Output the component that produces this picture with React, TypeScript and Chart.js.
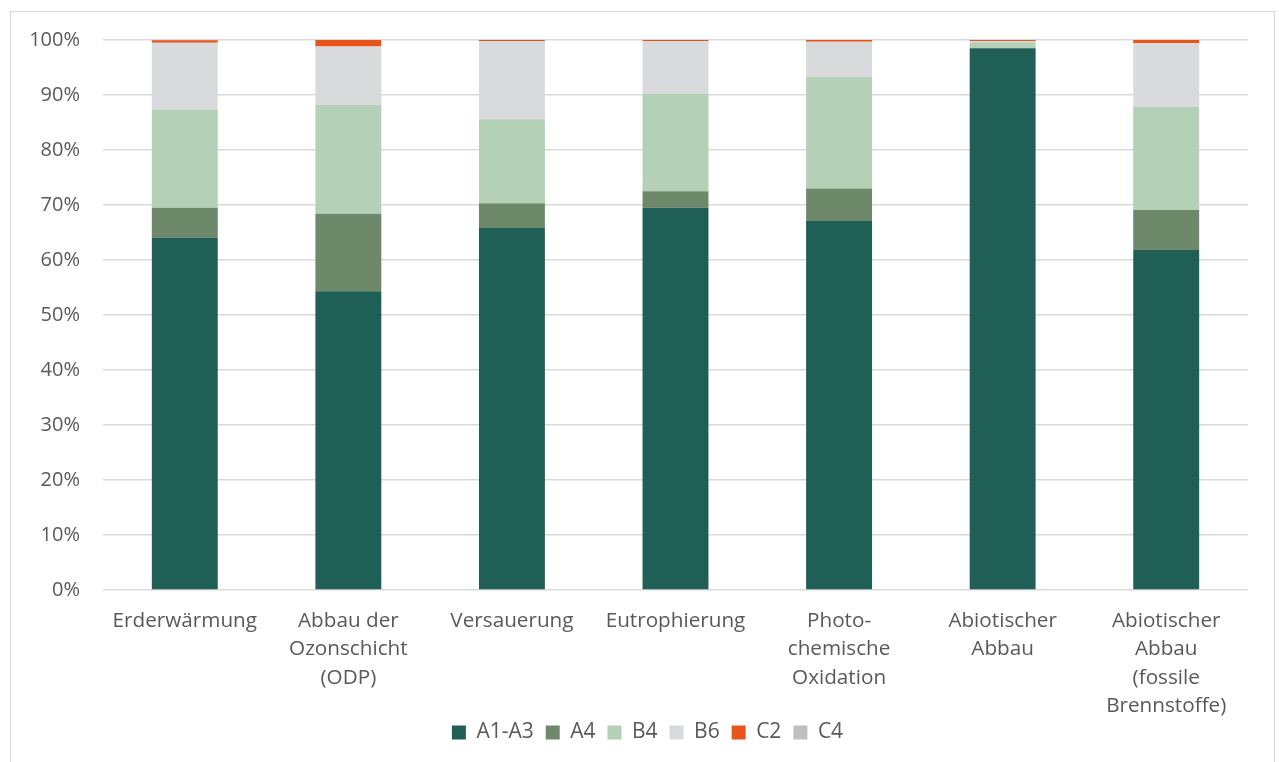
import React, { useEffect, useRef } from "react";
import { Chart, registerables } from "chart.js";

Chart.register(...registerables);

const categories: string[][] = [
  ["Erderwärmung"],
  ["Abbau der", "Ozonschicht", "(ODP)"],
  ["Versauerung"],
  ["Eutrophierung"],
  ["Photo-", "chemische", "Oxidation"],
  ["Abiotischer", "Abbau"],
  ["Abiotischer", "Abbau", "(fossile", "Brennstoffe)"],
];

const a1a3 = [64.1, 54.3, 65.8, 69.5, 67.1, 98.5, 61.8];
const a4 = [5.4, 14.1, 4.5, 3.0, 5.9, 0.0, 7.3];
const b4 = [17.8, 19.8, 15.3, 17.7, 20.3, 1.1, 18.7];
const b6 = [12.2, 10.6, 14.2, 9.6, 6.4, 0.2, 11.6];
const c2 = [0.45, 1.2, 0.2, 0.2, 0.3, 0.2, 0.6];
const c4 = [0.05, 0.0, 0.0, 0.0, 0.0, 0.0, 0.0];

const yTicks = [0, 10, 20, 30, 40, 50, 60, 70, 80, 90, 100];

const FONT = "'Open Sans', 'Noto Sans', sans-serif";
const TEXT = "#595959";

export default function App() {
  const ref = useRef<HTMLCanvasElement | null>(null);

  useEffect(() => {
    if (!ref.current) return;
    const mk = (label: string, data: number[], color: string) => ({
      label,
      data,
      backgroundColor: color,
      borderWidth: 0,
      barPercentage: 0.403,
      categoryPercentage: 1,
      yAxisID: "y",
    });
    const chart = new Chart(ref.current, {
      type: "bar",
      data: {
        labels: categories,
        datasets: [
          mk("A1-A3", a1a3, "#1F5F55"),
          mk("A4", a4, "#6E896A"),
          mk("B4", b4, "#B4D0B6"),
          mk("B6", b6, "#D9DADC"),
          mk("C2", c2, "#E8541C"),
          mk("C4", c4, "#BFBFBF"),
        ],
      },
      options: {
        animation: false,
        responsive: false,
        maintainAspectRatio: false,
        layout: { padding: { top: 28, right: 0, bottom: 9, left: 10 } },
        plugins: {
          tooltip: { enabled: false },
          legend: {
            position: "bottom",
            labels: {
              boxWidth: 14,
              boxHeight: 14,
              padding: 12,
              color: TEXT,
              font: { family: FONT, size: 21 },
            },
          },
        },
        scales: {
          x: {
            stacked: true,
            grid: { display: false, drawTicks: false },
            border: { display: false },
            ticks: {
              color: TEXT,
              font: { family: FONT, size: 20.7, lineHeight: 1.37 },
              maxRotation: 0,
              autoSkip: false,
              padding: 17,
            },
            afterFit: (s: any) => {
              s.height = 120;
              s._computeLabelArea = () => undefined;
            },
          },
          y: {
            stacked: true,
            min: 0,
            max: 100,
            afterBuildTicks: (s: any) => {
              s.ticks = yTicks.map((v) => ({ value: v }));
            },
            grid: {
              color: "#D9D9D9",
              lineWidth: 1.5,
              drawTicks: true,
              tickLength: 23,
              tickColor: "rgba(0,0,0,0)",
            },
            border: { display: false },
            ticks: {
              color: TEXT,
              font: { family: FONT, size: 20 },
              padding: 0,
              callback: (v: any) => v + "%",
            },
            afterFit: (s: any) => {
              s.width = 82;
            },
          },
          yRight: {
            position: "right",
            display: true,
            grid: { display: false, drawTicks: false },
            border: { display: false },
            ticks: { display: false },
            afterFit: (s: any) => {
              s.width = 26;
            },
          },
        },
      },
    });
    return () => chart.destroy();
  }, []);

  return (
    <div
      style={{
        position: "fixed",
        left: 10,
        top: 11,
        width: 1265,
        height: 751,
        border: "1px solid #D9D9D9",
        borderBottom: "none",
        boxSizing: "border-box",
        background: "#fff",
      }}
    >
      <canvas ref={ref} width={1263} height={750} style={{ display: "block" }} />
    </div>
  );
}
